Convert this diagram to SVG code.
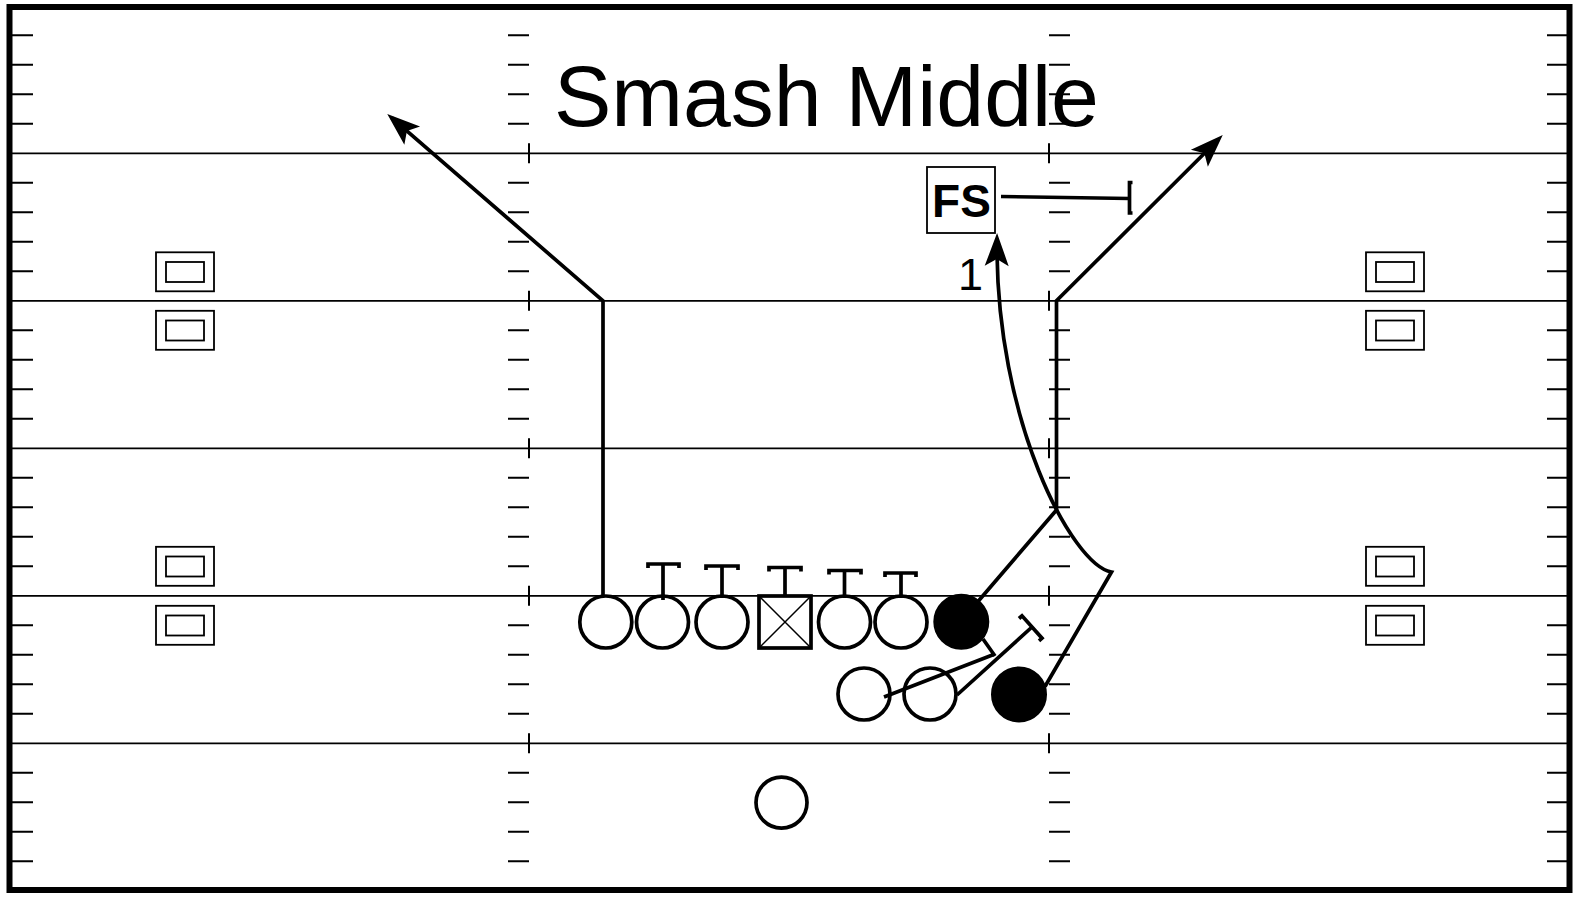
<svg xmlns="http://www.w3.org/2000/svg" width="1583" height="898" viewBox="0 0 1583 898">
<style>
.bg{fill:#fff}
.border{fill:none;stroke:#000;stroke-width:6}
.yl{stroke:#000;stroke-width:1.8;fill:none}
.hm{stroke:#000;stroke-width:2;fill:none}
.bx{fill:none;stroke:#000;stroke-width:1.8}
.pl{fill:#fff;stroke:#000;stroke-width:3.7}
.df{fill:#000;stroke:#000;stroke-width:2}
.thin{stroke:#000;stroke-width:1.5;fill:none}
.rt{fill:none;stroke:#000;stroke-width:3.7;stroke-linejoin:miter}
.title{font-family:"Liberation Sans",Arial,sans-serif;font-size:86px;fill:#000}
.lbl{font-family:"Liberation Sans",Arial,sans-serif;fill:#000}
</style>
<defs>
<marker id="arr" markerUnits="userSpaceOnUse" markerWidth="44" markerHeight="30" viewBox="-34 -15 44 30" refX="0" refY="0" orient="auto">
<path d="M6,0 L-27,-12 L-20,0 L-27,12 Z" fill="#000"/>
</marker>
</defs>
<rect class="bg" x="0" y="0" width="1583" height="898"/>
<g id="field">
<path class="yl" d="M9.5,153.3 H1569.5 M9.5,300.8 H1569.5 M9.5,448.3 H1569.5 M9.5,595.8 H1569.5 M9.5,743.3 H1569.5"/>
<path id="hash-left" class="hm" d="M12,35.3 H33 M12,64.8 H33 M12,94.3 H33 M12,123.8 H33 M12,182.8 H33 M12,212.3 H33 M12,241.8 H33 M12,271.3 H33 M12,330.3 H33 M12,359.8 H33 M12,389.3 H33 M12,418.8 H33 M12,477.8 H33 M12,507.3 H33 M12,536.8 H33 M12,566.3 H33 M12,625.3 H33 M12,654.8 H33 M12,684.3 H33 M12,713.8 H33 M12,772.8 H33 M12,802.3 H33 M12,831.8 H33 M12,861.3 H33"/>
<path id="hash-midleft" class="hm" d="M508,35.3 H529 M508,64.8 H529 M508,94.3 H529 M508,123.8 H529 M508,182.8 H529 M508,212.3 H529 M508,241.8 H529 M508,271.3 H529 M508,330.3 H529 M508,359.8 H529 M508,389.3 H529 M508,418.8 H529 M508,477.8 H529 M508,507.3 H529 M508,536.8 H529 M508,566.3 H529 M508,625.3 H529 M508,654.8 H529 M508,684.3 H529 M508,713.8 H529 M508,772.8 H529 M508,802.3 H529 M508,831.8 H529 M508,861.3 H529 M529,143.3 V163.3 M529,290.8 V310.8 M529,438.3 V458.3 M529,585.8 V605.8 M529,733.3 V753.3"/>
<path id="hash-midright" class="hm" d="M1049,35.3 H1070 M1049,64.8 H1070 M1049,94.3 H1070 M1049,123.8 H1070 M1049,182.8 H1070 M1049,212.3 H1070 M1049,241.8 H1070 M1049,271.3 H1070 M1049,330.3 H1070 M1049,359.8 H1070 M1049,389.3 H1070 M1049,418.8 H1070 M1049,477.8 H1070 M1049,507.3 H1070 M1049,536.8 H1070 M1049,566.3 H1070 M1049,625.3 H1070 M1049,654.8 H1070 M1049,684.3 H1070 M1049,713.8 H1070 M1049,772.8 H1070 M1049,802.3 H1070 M1049,831.8 H1070 M1049,861.3 H1070 M1049,143.3 V163.3 M1049,290.8 V310.8 M1049,438.3 V458.3 M1049,585.8 V605.8 M1049,733.3 V753.3"/>
<path id="hash-right" class="hm" d="M1547,35.3 H1568 M1547,64.8 H1568 M1547,94.3 H1568 M1547,123.8 H1568 M1547,182.8 H1568 M1547,212.3 H1568 M1547,241.8 H1568 M1547,271.3 H1568 M1547,330.3 H1568 M1547,359.8 H1568 M1547,389.3 H1568 M1547,418.8 H1568 M1547,477.8 H1568 M1547,507.3 H1568 M1547,536.8 H1568 M1547,566.3 H1568 M1547,625.3 H1568 M1547,654.8 H1568 M1547,684.3 H1568 M1547,713.8 H1568 M1547,772.8 H1568 M1547,802.3 H1568 M1547,831.8 H1568 M1547,861.3 H1568"/>
<rect class="border" x="9.5" y="7" width="1560" height="883"/>
</g>
<g id="markers-boxes">
<g id="box-l1"><rect class="bx" x="156" y="252.3" width="58" height="39"/><rect class="bx" x="166" y="262" width="38" height="20"/></g>
<g id="box-l2"><rect class="bx" x="156" y="310.8" width="58" height="39"/><rect class="bx" x="166" y="320.5" width="38" height="20"/></g>
<g id="box-l3"><rect class="bx" x="156" y="546.8" width="58" height="39"/><rect class="bx" x="166" y="556.5" width="38" height="20"/></g>
<g id="box-l4"><rect class="bx" x="156" y="605.8" width="58" height="39"/><rect class="bx" x="166" y="615.5" width="38" height="20"/></g>
<g id="box-r1"><rect class="bx" x="1366" y="252.3" width="58" height="39"/><rect class="bx" x="1376" y="262" width="38" height="20"/></g>
<g id="box-r2"><rect class="bx" x="1366" y="310.8" width="58" height="39"/><rect class="bx" x="1376" y="320.5" width="38" height="20"/></g>
<g id="box-r3"><rect class="bx" x="1366" y="546.8" width="58" height="39"/><rect class="bx" x="1376" y="556.5" width="38" height="20"/></g>
<g id="box-r4"><rect class="bx" x="1366" y="605.8" width="58" height="39"/><rect class="bx" x="1376" y="615.5" width="38" height="20"/></g>
</g>
<text id="title" class="title" x="554" y="126">Smash Middle</text>
<g id="players">
<circle id="lt" class="pl" cx="605.8" cy="622" r="26"/>
<circle id="lg" class="pl" cx="662.5" cy="622" r="26"/>
<circle id="lc" class="pl" cx="722" cy="622" r="26"/>
<g id="center"><rect class="pl" x="759" y="596" width="52" height="52"/><path class="thin" d="M759,596 L811,648 M811,596 L759,648"/></g>
<circle id="rg" class="pl" cx="844.5" cy="622" r="26"/>
<circle id="rt" class="pl" cx="901" cy="622" r="26"/>
<circle id="te" class="df" cx="961.3" cy="621.8" r="27"/>
<circle id="b1" class="pl" cx="864" cy="694" r="26"/>
<circle id="b2" class="pl" cx="930" cy="694" r="26"/>
<circle id="wing" class="df" cx="1019" cy="694.4" r="27"/>
<circle id="qb" class="pl" cx="781.5" cy="802.6" r="25.5"/>
<g id="fs"><rect class="bx" x="927" y="167" width="68" height="66"/><text class="lbl" x="961.5" y="217" font-size="46" font-weight="bold" text-anchor="middle">FS</text></g>
<text id="lbl-1" class="lbl" x="958" y="290" font-size="45">1</text>
</g>
<g id="connectors">
<path class="rt" d="M603,596 V300.8 L391.8,117.9" marker-end="url(#arr)"/>
<path class="rt" d="M975,605 L1056.5,510 V300.8 L1218.5,139.2" marker-end="url(#arr)"/>
<path class="rt" d="M1045,686.5 L1111.5,572 C1072,565 995,420 997,239" marker-end="url(#arr)"/>
<path class="rt" d="M663,600 V564 M648,568 V564 H679 V568"/>
<path class="rt" d="M722,598 V566 M706,570 V566 H738 V570"/>
<path class="rt" d="M785,596 V567.5 M769,571.5 V567.5 H801 V571.5"/>
<path class="rt" d="M844.5,598 V570.5 M829,574.5 V570.5 H861 V574.5"/>
<path class="rt" d="M901,598 V573 M885,577 V573 H916 V577"/>
<path class="rt" d="M884,697 L995,654 M983,639 L995,656"/>
<path class="rt" d="M957,695 L1032,627 M1019,618.5 L1022,615.8 L1042,638.2 L1039,640.8"/>
<path class="rt" d="M1001,196.5 L1129.5,198.5 M1132.5,182.5 H1129.5 V213 H1132.5"/>
</g>
</svg>
